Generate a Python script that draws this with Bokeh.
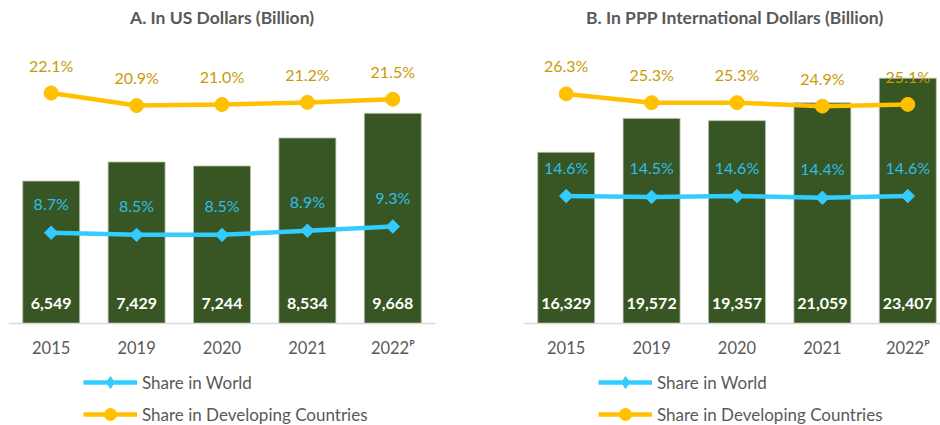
from bokeh.plotting import figure
from bokeh.layouts import row
from bokeh.models import Range1d, Label, Legend, LegendItem, ColumnDataSource
from bokeh.core.properties import value
from bokeh.embed import file_html
from bokeh.resources import INLINE
import numpy as np

# ---- data ----
years = ["2015", "2019", "2020", "2021", "2022\u1d3e"]
usd_values = [6549, 7429, 7244, 8534, 9668]
usd_share_world = [8.7, 8.5, 8.5, 8.9, 9.3]
usd_share_dev = [22.1, 20.9, 21.0, 21.2, 21.5]
ppp_values = [16329, 19572, 19357, 21059, 23407]
ppp_share_world = [14.6, 14.5, 14.6, 14.4, 14.6]
ppp_share_dev = [26.3, 25.3, 25.3, 24.9, 25.1]
titles = ["A. In US Dollars (Billion)", "B. In PPP International Dollars  (Billion)"]
legend_labels = ["Share in World", "Share in Developing Countries"]

FONT = "Lato"
GREEN = "#375623"
BLUE = "#33CCFF"
ORANGE = "#FFC000"
GREY = "#595959"


def panel(title, bars, world, dev, y_rng, pct_rng, x_end, border_left, border_right):
    idx = list(range(len(years)))
    p = figure(width=470, height=425, output_backend="svg", toolbar_location=None,
               x_range=Range1d(-0.5, x_end), y_range=Range1d(*y_rng),
               y_axis_location=None, min_border_left=border_left,
               min_border_right=border_right, min_border_top=0, min_border_bottom=0)
    p.extra_y_ranges = {"pct": Range1d(*pct_rng)}
    p.outline_line_color = None
    p.xgrid.visible = False
    p.ygrid.visible = False
    p.background_fill_color = "white"
    p.border_fill_color = "white"

    ax = p.xaxis[0]
    ax.fixed_location = 0
    ax.ticker = idx
    ax.major_label_overrides = {i: y for i, y in zip(idx, years)}
    ax.axis_line_color = "#D9D9D9"
    ax.axis_line_width = 1.5
    ax.major_tick_line_color = None
    ax.minor_tick_line_color = None
    ax.major_tick_out = 0
    ax.major_label_standoff = 15
    ax.major_label_text_font = FONT
    ax.major_label_text_font_size = "16.5px"
    ax.major_label_text_color = GREY

    src = ColumnDataSource(dict(
        x=idx, bars=bars, world=world, dev=dev,
        bar_lbl=[f"{v:,}" for v in bars],
        world_lbl=[f"{v:.1f}%" for v in world],
        dev_lbl=[f"{v:.1f}%" for v in dev],
        zero=[0] * len(idx)))

    p.vbar(x="x", top="bars", width=0.667, source=src, fill_color=GREEN,
           line_color="#B8C2AE", line_width=0.8)

    bl = p.line("x", "world", source=src, y_range_name="pct", line_color=BLUE, line_width=4.5)
    p.scatter("x", "world", source=src, y_range_name="pct", marker="square",
              angle=np.pi / 4, size=9.5, fill_color=BLUE, line_color=BLUE)
    bleg = p.scatter("x", "world", source=src, y_range_name="pct", marker="diamond",
                     size=0, fill_color=BLUE, line_color=BLUE)

    ol = p.line("x", "dev", source=src, y_range_name="pct", line_color=ORANGE, line_width=4.5)
    osc = p.scatter("x", "dev", source=src, y_range_name="pct", marker="circle",
                    size=14, fill_color=ORANGE, line_color=ORANGE)

    p.text("x", "zero", text="bar_lbl", source=src, text_align="center",
           text_baseline="middle", y_offset=-20, text_font=value(FONT),
           text_font_style="bold", text_font_size="16px", text_color="white")
    p.text("x", "world", text="world_lbl", source=src, y_range_name="pct",
           text_align="center", text_baseline="middle", y_offset=-29,
           text_font=value(FONT), text_font_size="16px", text_color="#30BDEB")
    p.text("x", "dev", text="dev_lbl", source=src, y_range_name="pct",
           text_align="center", text_baseline="middle", y_offset=-28,
           text_font=value(FONT), text_font_size="16px", text_color="#C99A06")

    p.add_layout(Label(x=2, y=408, x_units="data", y_units="screen", text=title,
                       text_align="center", text_baseline="middle", text_font=FONT,
                       text_font_style="bold", text_font_size="17.5px", text_color=GREY))

    legend = Legend(items=[LegendItem(label=legend_labels[0], renderers=[bl, bleg]),
                           LegendItem(label=legend_labels[1], renderers=[ol, osc])],
                    location=(75, -4), orientation="vertical",
                    border_line_color=None, background_fill_alpha=0,
                    padding=0, margin=0, spacing=2, glyph_width=54, glyph_height=30,
                    label_standoff=5, label_text_font=FONT, label_text_font_size="17px",
                    label_text_color=GREY)
    p.add_layout(legend, "center")
    return p


p1 = panel(titles[0], usd_values, usd_share_world, usd_share_dev,
           y_rng=(-4692, 14857), pct_rng=(-9.78, 30.97), x_end=4.5,
           border_left=8, border_right=35)
p2 = panel(titles[1], ppp_values, ppp_share_world, ppp_share_dev,
           y_rng=(-9733, 30821), pct_rng=(-11.68, 37.0), x_end=4.383,
           border_left=53, border_right=0)

layout = row(p1, p2, spacing=0)
open("out.html", "w").write(file_html(layout, INLINE))
